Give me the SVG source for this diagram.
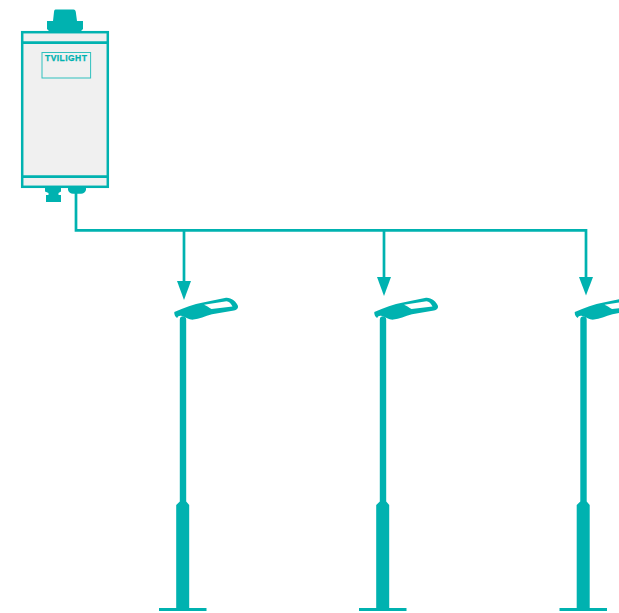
<svg xmlns="http://www.w3.org/2000/svg" width="619" height="613" viewBox="0 0 619 613">
<style>
.t{fill:#00b2b0}
.w{fill:none;stroke:#00b2b0;stroke-width:2.7}
.a{fill:#00b2b0}
.lbl{font-family:"Liberation Sans",Arial,sans-serif;font-weight:700;font-size:8.5px;fill:#00b2b0;stroke:#00b2b0;stroke-width:.25;letter-spacing:.45px}
</style>
<defs>
<g id="lamp">
<path class="t" d="M174.3 312 C184 307.5 194 304 203 302.4 L226 297.8 C231 297.4 236.5 301.5 238 306 C238.4 308.6 236.5 310 234 310.4 L212 314.2 C205 316 199 319 193.5 319.6 C189 320 186 317.4 182 316 C179.5 315.2 178 316 177.2 318 C175.2 317 174 314.5 174.3 312Z"/>
<path fill="#fff" d="M204 304.8 L226.5 301.2 C229 301.2 231 303.5 232.5 306.4 L211.5 309 C209 308 207 305.8 204 304.8Z"/>
<path class="t" d="M179.8 319.5 C179.8 315.2 186.2 315.2 186.2 319.5 L186.2 501.5 L189.2 505 L189.2 608 L206.5 608 L206.5 611 L159 611 L159 608 L176.2 608 L176.2 505 L179.8 501.5Z"/>
</g>
</defs>
<g id="controller">
<path class="t" d="M55.5 9.5 L73.5 9.5 C75 9.5 75.5 10.5 75.8 12 L77 21 L83 21 L83 29 L80 32 L50 32 L47 29 L47 21 L53 21 L54 12 C54.2 10.5 54.5 9.5 55.5 9.5Z"/>
<rect x="22.2" y="32.2" width="85.6" height="154.6" fill="#f0f0f0" stroke="#00b2b0" stroke-width="2.5"/>
<path d="M22 42.6H108M22 176.6H108" fill="none" stroke="#00b2b0" stroke-width="2.8"/>
<rect x="42" y="52.5" width="48.6" height="25.5" fill="none" stroke="#2fc0be" stroke-width="1"/>
<text class="lbl" x="45" y="61">TVILIGHT</text>
<path class="t" d="M45 188H61V191.5L58.5 193V195H61V202H46V195H48.5V193L45 191.5Z"/>
<path class="t" d="M68 188H86V190C85 192.5 83.5 193.8 81 193.8H73C70.5 193.8 69 192.5 68 190Z"/>
</g>
<g id="connectors">
<path class="w" d="M76 192V230.3H586V280M184 230.3V284M384 230.3V280"/>
<path class="a" d="M177 281H191L184 300Z"/>
<path class="a" d="M377 277H391L384 296Z"/>
<path class="a" d="M579 277H593L586 295.5Z"/>
</g>
<g id="lamp1"><use href="#lamp"/></g>
<g id="lamp2"><use href="#lamp" x="200"/></g>
<g id="lamp3"><use href="#lamp" x="400.5"/></g>
</svg>
